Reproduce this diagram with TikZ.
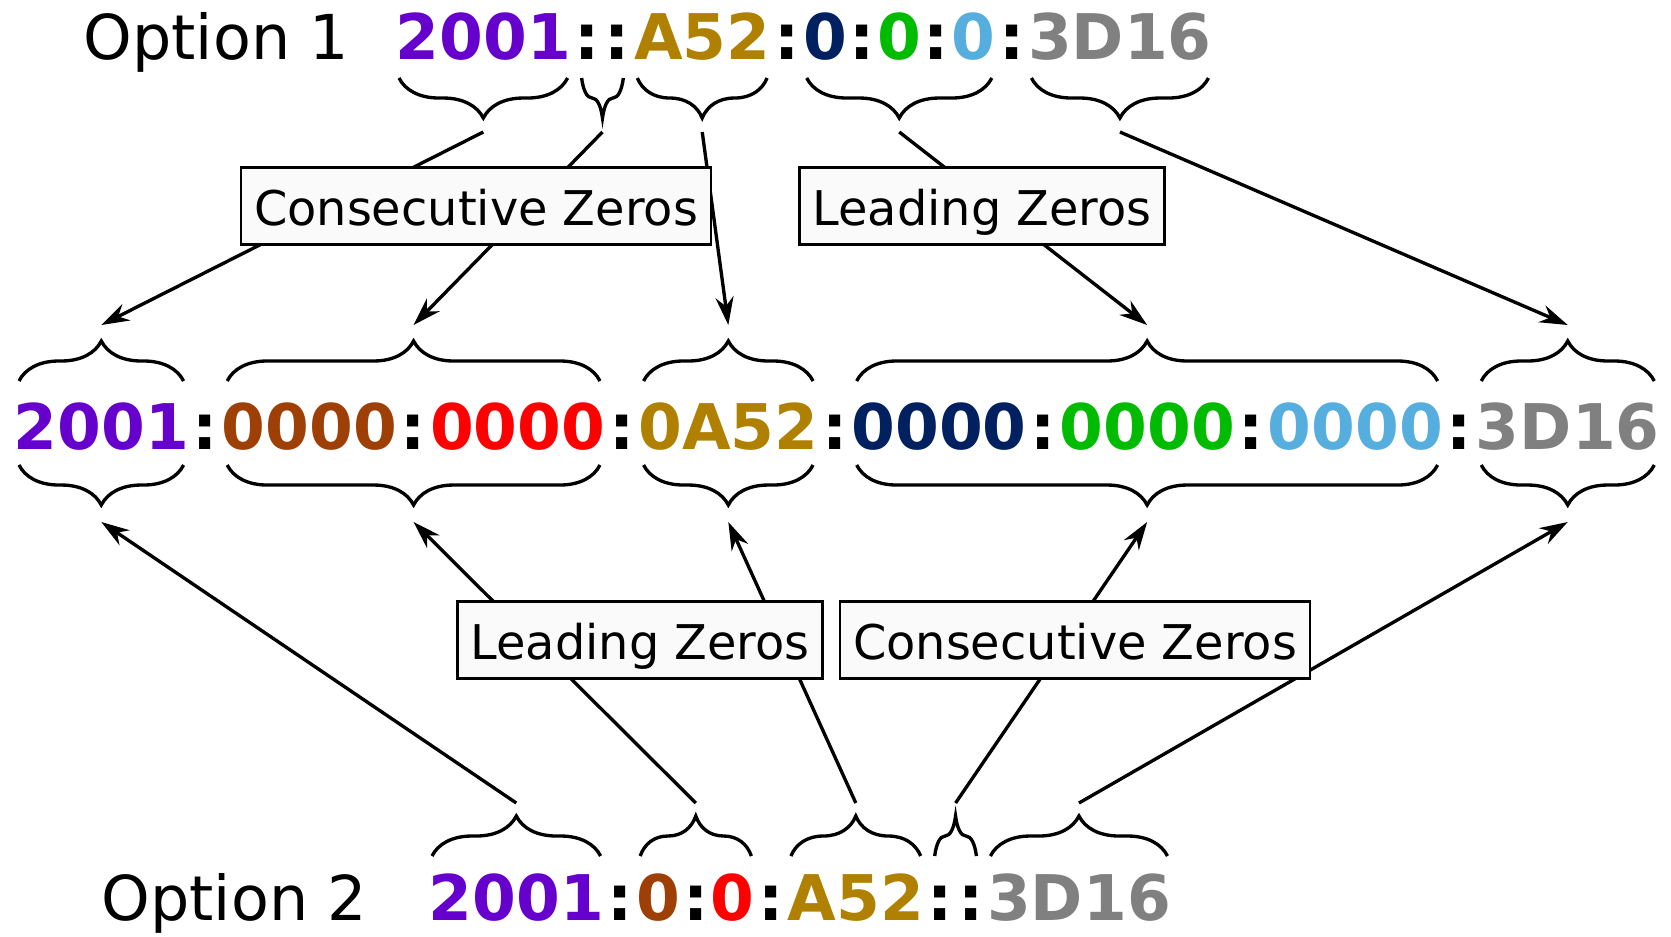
\documentclass[tikz,border=0pt]{standalone}
\usepackage{fontspec}
\setmainfont{DejaVu Sans}
\usetikzlibrary{positioning,calc,decorations.pathreplacing,arrows.meta}
\definecolor{addrpurple}{RGB}{102,0,204}
\definecolor{addrbrown}{RGB}{158,64,5}
\definecolor{addrred}{RGB}{255,0,0}
\definecolor{addrgold}{RGB}{176,128,0}
\definecolor{addrnavy}{RGB}{0,32,96}
\definecolor{addrgreen}{RGB}{0,187,0}
\definecolor{addrsky}{RGB}{86,174,222}
\definecolor{addrgray}{RGB}{128,128,128}
\tikzset{
  hex/.style={inner sep=0pt,font=\fontsize{17.9}{20}\selectfont\bfseries},
  optlbl/.style={inner sep=0pt,anchor=base west,font=\fontsize{17.6}{20}\selectfont},
  brc/.style={line width=0.95pt,decorate,decoration={brace,amplitude=0.4cm}},
  flow/.style={line width=0.95pt,->,>={Stealth[length=0.28cm,width=0.18cm]}},
  rulebox/.style={draw,line width=0.75pt,fill=black!2,inner xsep=0.13cm,minimum height=0.77cm,
    text height=0.43cm,text depth=0.05cm,font=\fontsize{13.6}{15}\selectfont}
}
\newcommand{\cln}{\kern0.025cm:\kern0.025cm}

\begin{document}
\begin{tikzpicture}[x=0.01cm,y=0.01cm]
  \useasboundingbox (0,0) rectangle (1671,-936);
  % short form, option 1
  \node[optlbl] (opt1) at (83,-59) {Option 1};
  \node[hex,anchor=base west,text=addrpurple] (t1) at (395,-59) {2001};
  \node[hex,base right=0pt of t1] (t2) {\cln\cln};
  \node[hex,base right=0pt of t2,text=addrgold] (t3) {A52};
  \node[hex,base right=0pt of t3] (t4) {\cln};
  \node[hex,base right=0pt of t4] (t5) {\textcolor{addrnavy}{0}\cln\textcolor{addrgreen}{0}\cln\textcolor{addrsky}{0}};
  \node[hex,base right=0pt of t5] (t6) {\cln};
  \node[hex,base right=0pt of t6,text=addrgray] (t7) {3D16};
  % full address
  \node[hex,anchor=base west,text=addrpurple] (m1) at (13,-449) {2001};
  \node[hex,base right=0pt of m1] (c1) {\cln};
  \node[hex,base right=0pt of c1,text=addrbrown] (m2) {0000};
  \node[hex,base right=0pt of m2] (c2) {\cln};
  \node[hex,base right=0pt of c2,text=addrred] (m3) {0000};
  \node[hex,base right=0pt of m3] (c3) {\cln};
  \node[hex,base right=0pt of c3,text=addrgold] (m4) {0A52};
  \node[hex,base right=0pt of m4] (c4) {\cln};
  \node[hex,base right=0pt of c4,text=addrnavy] (m5) {0000};
  \node[hex,base right=0pt of m5] (c5) {\cln};
  \node[hex,base right=0pt of c5,text=addrgreen] (m6) {0000};
  \node[hex,base right=0pt of m6] (c6) {\cln};
  \node[hex,base right=0pt of c6,text=addrsky] (m7) {0000};
  \node[hex,base right=0pt of m7] (c7) {\cln};
  \node[hex,base right=0pt of c7,text=addrgray] (m8) {3D16};
  % short form, option 2
  \node[optlbl] (opt2) at (101,-920) {Option 2};
  \node[hex,anchor=base west,text=addrpurple] (b1) at (428,-920) {2001};
  \node[hex,base right=0pt of b1] (b2) {\cln};
  \node[hex,base right=0pt of b2] (b3) {\textcolor{addrbrown}{0}\cln\textcolor{addrred}{0}};
  \node[hex,base right=0pt of b3] (b4) {\cln};
  \node[hex,base right=0pt of b4,text=addrgold] (b5) {A52};
  \node[hex,base right=0pt of b5] (b6) {\cln\cln};
  \node[hex,base right=0pt of b6,text=addrgray] (b7) {3D16};

  % braces and the points the arrows run between
  \foreach \g/\d/\n in {t1/4/1,t2/10/2,t3/4/3,t5/4/4,t7/4/5} {
    \draw[brc] ($(\g.base east)+(-\d,-19)$) -- ($(\g.base west)+(\d,-19)$);
    \coordinate (tp\n) at ($(\g.base)+(0,-73)$);
  }
  \foreach \a/\b/\n in {m1/m1/1,m2/m3/2,m4/m4/3,m5/m7/4,m8/m8/5} {
    \draw[brc] ($(\a.base west)+(6,68)$) -- ($(\b.base east)+(-6,68)$);
    \draw[brc] ($(\b.base east)+(-6,-16)$) -- ($(\a.base west)+(6,-16)$);
    \coordinate (up\n) at ($(\a.base west)!.5!(\b.base east)+(0,124)$);
    \coordinate (dn\n) at ($(\a.base west)!.5!(\b.base east)+(0,-73)$);
  }
  \foreach \g/\d/\n in {b1/4/1,b3/4/2,b5/4/3,b6/10/4,b7/4/5} {
    \draw[brc] ($(\g.base west)+(\d,64)$) -- ($(\g.base east)+(-\d,64)$);
    \coordinate (bt\n) at ($(\g.base)+(0,117)$);
  }
  \foreach \n in {1,...,5} {
    \draw[flow] (tp\n) -- (up\n);
    \draw[flow] (bt\n) -- (dn\n);
  }

  % rule labels sit over the arrows
  \node[rulebox] (cz1) at (476,-206) {Consecutive Zeros};
  \node[rulebox] (lz1) at (982,-206) {Leading Zeros};
  \node[rulebox] (lz2) at (640,-640) {Leading Zeros};
  \node[rulebox] (cz2) at (1075,-640) {Consecutive Zeros};
\end{tikzpicture}
\end{document}
